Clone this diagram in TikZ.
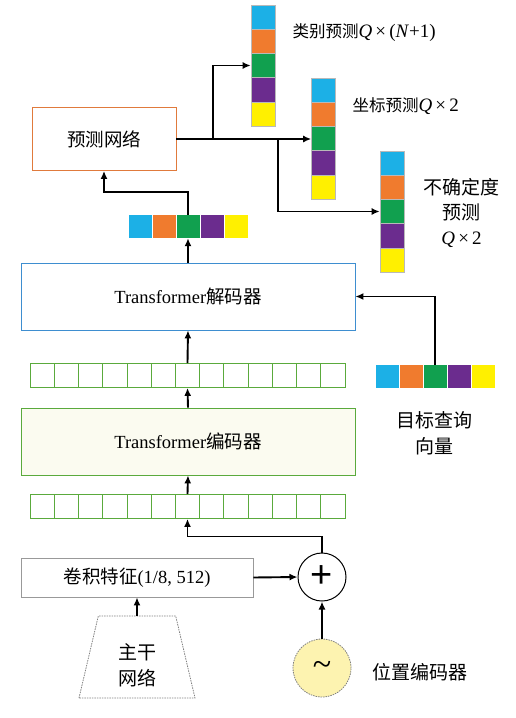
\documentclass[tikz,border=0pt]{standalone}
\usepackage{fontspec}
\setmainfont{Liberation Serif}
\newfontfamily\cjk{Noto Sans CJK SC}
\newfontfamily\plusfont{Liberation Sans}
\usetikzlibrary{shapes.geometric, positioning, arrows.meta}

\definecolor{qblue}{HTML}{1CB0E6}
\definecolor{qorange}{HTML}{F07B2E}
\definecolor{qgreen}{HTML}{11A04F}
\definecolor{qpurple}{HTML}{6B2C8E}
\definecolor{qyellow}{HTML}{FFF000}
\definecolor{predorange}{HTML}{E07A3C}
\definecolor{decblue}{HTML}{3E8ED0}
\definecolor{gridgreen}{HTML}{5AAA3C}
\definecolor{encfill}{HTML}{FBFBF0}
\definecolor{posyellow}{HTML}{FDF3B0}

\begin{document}
\begin{tikzpicture}[
    x=1pt, y=-1pt,
    >={Latex[length=8pt,width=7pt]},
    flow/.style={->, line width=1.9pt},
    block/.style={
        draw, rectangle, minimum width=334pt, minimum height=67pt,
        line width=0.8pt, font=\fontsize{18.5}{20}\selectfont
    },
    vcell/.style={draw=gray!55, line width=0.6pt, minimum width=24pt, minimum height=24.2pt, inner sep=0pt},
    hcell/.style={minimum width=23pt, minimum height=23pt, inner sep=0pt},
    gcell/.style={draw=gridgreen, line width=0.8pt, minimum width=24.23pt, minimum height=24pt, inner sep=0pt},
    lbl/.style={font=\fontsize{19}{26}\selectfont, align=center},
    smalllbl/.style={font=\fontsize{16.5}{18}\selectfont, anchor=west}
]
\useasboundingbox (0,0) rectangle (515,718);

\node[block, draw=predorange, minimum width=144pt, minimum height=63pt] (Pred) at (104,139) {\cjk 预测网络};

% output columns and query rows
\foreach \c [count=\i] in {qblue,qorange,qgreen,qpurple,qyellow} {
    \node[vcell, fill=\c] (Cls\i) at (263, {-7.1+24.2*\i}) {};
    \node[vcell, fill=\c] (Box\i) at (323.5, {65.9+24.2*\i}) {};
    \node[vcell, fill=\c] (Unc\i) at (392, {138.9+24.2*\i}) {};
    \node[hcell, fill=\c] (PredIn\i) at ({116+24*\i}, 226.5) {};
    \node[hcell, fill=\c] (Query\i) at ({363+24*\i}, 376.5) {};
}

\node[smalllbl] (ClsLbl) at (289,33) {{\cjk 类别预测}{\fontsize{19}{20}\selectfont\textit{Q}\,×\,(\textit{N}+1)}};
\node[smalllbl] (BoxLbl) at (349,106) {{\cjk 坐标预测}{\fontsize{19}{20}\selectfont\textit{Q}\,×\,2}};
\node[lbl, font=\fontsize{19}{25}\selectfont] (UncLbl) at (461.5,213) {{\cjk 不确定度}\\{\cjk 预测}\\\textit{Q}\,×\,2};

\node[block, draw=decblue] (Dec) at (188,296.5) {Transformer{\cjk 解码器}};
\node[block, draw=gridgreen, fill=encfill] (Enc) at (188,441.5) {Transformer{\cjk 编码器}};

\foreach \i in {1,...,13} {
    \node[gcell] (EncOut\i) at ({30+24.23*(\i-0.5)}, 375.5) {};
    \node[gcell] (EncIn\i) at ({30+24.23*(\i-0.5)}, 506.5) {};
}

\node[lbl] (QueryLbl) at (434,433) {{\cjk 目标查询}\\{\cjk 向量}};

\node[draw=gray!80, line width=0.8pt, minimum width=232pt, minimum height=39pt,
      font=\fontsize{18.5}{20}\selectfont] (Conv) at (137,577.5) {{\cjk 卷积特征}(1/8, 512)};
\node[circle, draw, line width=1pt, minimum size=48pt, inner sep=0pt,
      font=\plusfont\fontsize{38}{38}\selectfont] (Sum) at (322,577) {+};
\node[circle, draw=gray, dash pattern=on 1.5pt off 1pt, line width=0.8pt, fill=posyellow,
      minimum size=58pt, inner sep=0pt, font=\fontsize{34}{34}\selectfont] (PosEnc) at (322,668) {\textasciitilde};
\node[lbl, anchor=west] (PosLbl) at (369,672) {\cjk 位置编码器};

\node[trapezium, trapezium angle=76, trapezium stretches=true, minimum width=116pt,
      minimum height=82pt, draw=gray, dash pattern=on 1.5pt off 1pt, line width=0.8pt] (Backbone) at (137,657) {};
\node[lbl] (BackboneLbl) at (137,665) {{\cjk 主干}\\{\cjk 网络}};

\coordinate (Split) at (278,139);

\draw[flow] (Pred.east) -- ++(37,0) |- (Cls3.west);
\draw[flow] (Pred.east) -- (Pred.east -| Box3.west);
\draw[flow] (Split) |- (Unc3.west);
\draw[flow] (PredIn3.north) -- ++(0,-23) -| (Pred.south);
\draw[flow] (Dec.north) -- (PredIn3.south);
\draw[flow] (Query3.north) |- (Dec.east);
\draw[flow] (EncOut7.north) -- (Dec.south);
\draw[flow] (Enc.north) -- (EncOut7.south);
\draw[flow] (EncIn7.north) -- (Enc.south);
\draw[flow] (Sum.north) -- ++(0,-16) -| (EncIn7.south);
\draw[flow] (Conv.east) -- (Sum.west);
\draw[flow] (PosEnc.north) -- (Sum.south);
\draw[flow] (Backbone.top side) -- (Conv.south);

\end{tikzpicture}
\end{document}
